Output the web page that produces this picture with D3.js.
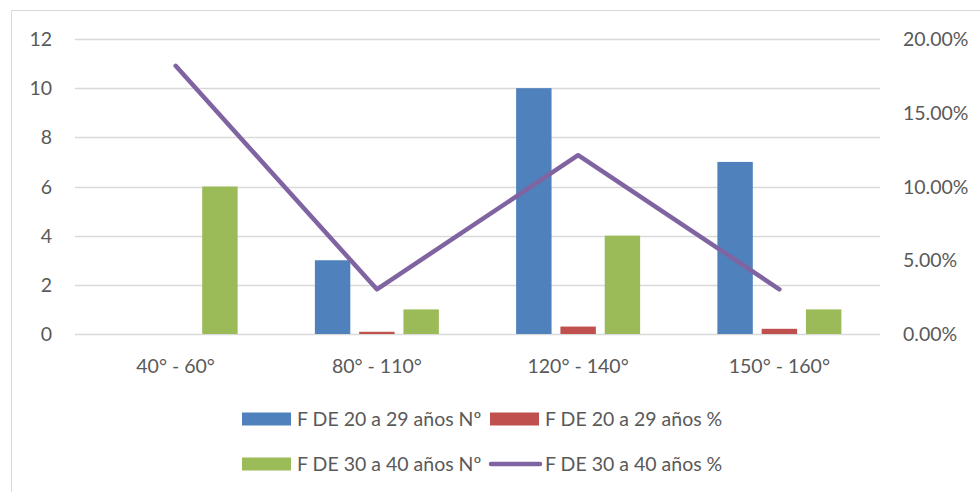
<!DOCTYPE html>
<html>
<head>
<meta charset="utf-8">
<script src="https://cdn.jsdelivr.net/npm/d3@7"></script>
<style>
  html, body { margin: 0; padding: 0; background: #fff; }
  svg { display: block; }
  text { font-family: Lato, "Open Sans", "Liberation Sans", sans-serif; fill: #595959; }
</style>
</head>
<body>
<svg id="chart" width="980" height="492"></svg>
<script>
const categories = ["40° - 60°", "80° - 110°", "120° - 140°", "150° - 160°"];
const seriesNames = ["F DE 20 a 29 años Nº", "F DE 20 a 29 años %", "F DE 30 a 40 años Nº", "F DE 30 a 40 años %"];
const f20Count = [0, 3, 10, 7];
const f20Pct = [0, 0.0909, 0.303, 0.212];
const f30Count = [6, 1, 4, 1];
const f30Pct = [0.1818, 0.0303, 0.1212, 0.0303];
const leftTicks = [0, 2, 4, 6, 8, 10, 12];
const rightTicks = [0, 0.05, 0.10, 0.15, 0.20];
const colors = ["#4F81BD", "#C0504D", "#9BBB59", "#8064A2"];

const svg = d3.select("#chart");
const fs = 19.5;

// chart border
svg.append("rect").attr("x", 11.5).attr("y", 10.5).attr("width", 1200).attr("height", 600)
  .attr("fill", "none").attr("stroke", "#D9D9D9").attr("stroke-width", 1);

const plotL = 75, plotR = 880, plotT = 39, plotB = 334;
const x = d3.scaleBand().domain(categories).range([plotL, plotR]).padding(0);
const yL = d3.scaleLinear().domain([0, 12]).range([plotB, plotT]);
const yR = d3.scaleLinear().domain([0, 0.20]).range([plotB, plotT]);
const barKeys = [0, 1, 2];
const xs = d3.scaleBand().domain(barKeys).range([-62, 62]).paddingInner(0.2);

// gridlines
svg.append("g").selectAll("line").data(leftTicks).join("line")
  .attr("x1", plotL).attr("x2", plotR)
  .attr("y1", d => Math.round(yL(d)) + 0.5).attr("y2", d => Math.round(yL(d)) + 0.5)
  .attr("stroke", "#D9D9D9").attr("stroke-width", 1.3);

// left axis labels
svg.append("g").selectAll("text").data(leftTicks).join("text")
  .attr("x", 52).attr("y", d => yL(d)).attr("dy", "0.36em")
  .attr("text-anchor", "end").attr("font-size", fs).text(d => d);

// right axis labels
svg.append("g").selectAll("text").data(rightTicks).join("text")
  .attr("x", 903).attr("y", d => yR(d)).attr("dy", "0.36em")
  .attr("text-anchor", "start").attr("font-size", fs).text(d => (d * 100).toFixed(2) + "%");

// category labels
svg.append("g").selectAll("text").data(categories).join("text")
  .attr("x", d => x(d) + x.bandwidth() / 2).attr("y", 373)
  .attr("text-anchor", "middle").attr("font-size", fs).text(d => d);

// bars
const barSeries = [f20Count, f20Pct, f30Count];
barSeries.forEach((vals, si) => {
  svg.append("g").selectAll("rect").data(vals).join("rect")
    .attr("x", (d, i) => x(categories[i]) + x.bandwidth() / 2 + xs(si))
    .attr("width", xs.bandwidth())
    .attr("y", d => yL(d))
    .attr("height", d => plotB - yL(d))
    .attr("fill", colors[si]);
});

// line
const line = d3.line()
  .x((d, i) => x(categories[i]) + x.bandwidth() / 2)
  .y(d => yR(d));
svg.append("path").datum(f30Pct).attr("d", line)
  .attr("fill", "none").attr("stroke", colors[3]).attr("stroke-width", 4.5)
  .attr("stroke-linejoin", "round").attr("stroke-linecap", "round");

// legend
const legend = [
  { name: seriesNames[0], color: colors[0], type: "rect", sx: 242, tx: 297, y: 419 },
  { name: seriesNames[1], color: colors[1], type: "rect", sx: 490, tx: 545, y: 419 },
  { name: seriesNames[2], color: colors[2], type: "rect", sx: 242, tx: 297, y: 464 },
  { name: seriesNames[3], color: colors[3], type: "line", sx: 490, tx: 545, y: 464 }
];
const lg = svg.append("g");
legend.forEach(l => {
  if (l.type === "rect") {
    lg.append("rect").attr("x", l.sx).attr("y", l.y - 6.5).attr("width", 49).attr("height", 13).attr("fill", l.color);
  } else {
    lg.append("line").attr("x1", l.sx + 1).attr("x2", l.sx + 50).attr("y1", l.y).attr("y2", l.y)
      .attr("stroke", l.color).attr("stroke-width", 4.5).attr("stroke-linecap", "round");
  }
  lg.append("text").attr("x", l.tx).attr("y", l.y).attr("dy", "0.36em")
    .attr("font-size", fs).text(l.name);
});
</script>
</body>
</html>
